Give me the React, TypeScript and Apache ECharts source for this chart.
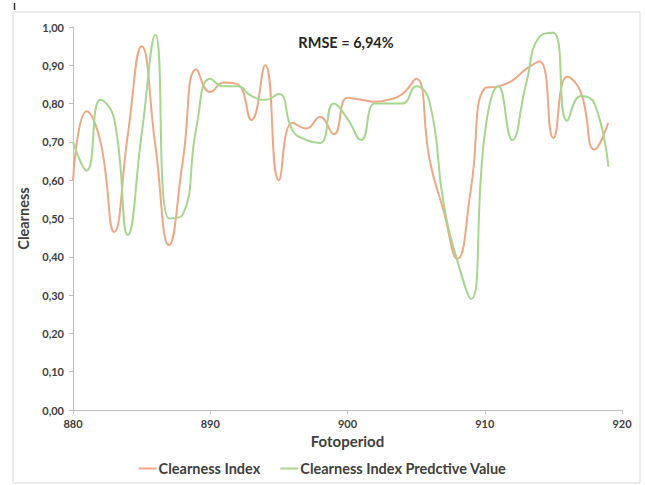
import React, { useEffect, useRef } from "react";
import * as echarts from "echarts";

const periods = [
  880, 881, 882, 883, 884, 885, 886, 887, 888, 889,
  890, 891, 892, 893, 894, 895, 896, 897, 898, 899,
  900, 901, 902, 903, 904, 905, 906, 907, 908, 909,
  910, 911, 912, 913, 914, 915, 916, 917, 918, 919,
];

const clearnessIndex = [
  0.60, 0.78, 0.70, 0.465, 0.72, 0.95, 0.69, 0.43, 0.65, 0.89,
  0.83, 0.855, 0.85, 0.757, 0.90, 0.60, 0.75, 0.735, 0.765, 0.72,
  0.815, 0.81, 0.805, 0.81, 0.825, 0.865, 0.65, 0.52, 0.395, 0.58,
  0.84, 0.845, 0.86, 0.89, 0.91, 0.71, 0.87, 0.83, 0.68, 0.75,
];

const predictedValue = [
  0.70, 0.625, 0.81, 0.76, 0.457, 0.72, 0.98, 0.50, 0.51, 0.74,
  0.865, 0.845, 0.845, 0.82, 0.81, 0.825, 0.73, 0.705, 0.697, 0.80,
  0.76, 0.705, 0.80, 0.80, 0.80, 0.845, 0.80, 0.54, 0.39, 0.29,
  0.72, 0.845, 0.705, 0.85, 0.975, 0.985, 0.755, 0.82, 0.80, 0.635,
];

const seriesNames = ["Clearness Index", "Clearness Index Predctive Value"];
const annotation = "RMSE = 6,94%";

const FONT = "Lato, 'Liberation Sans', sans-serif";

export default function App() {
  const ref = useRef<HTMLDivElement>(null);
  useEffect(() => {
    if (!ref.current) return;
    const chart = echarts.init(ref.current, undefined, { renderer: "svg" });
    const toPairs = (vals: number[]) => periods.map((p, i) => [p, vals[i]]);
    chart.setOption({
      animation: false,
      backgroundColor: "#ffffff",
      textStyle: { fontFamily: FONT },
      grid: { left: 73, right: 23, top: 27, bottom: 75 },
      legend: {
        bottom: 4,
        left: "center",
        icon: "rect",
        itemWidth: 18,
        itemHeight: 2,
        itemGap: 20,
        textStyle: { fontFamily: FONT, fontSize: 14.5, fontWeight: "bold", color: "#404040", padding: [0, 0, 0, -3] },
        data: seriesNames,
      },
      xAxis: {
        type: "value",
        min: 880,
        max: 920,
        interval: 10,
        name: "Fotoperiod",
        nameLocation: "middle",
        nameGap: 23,
        nameTextStyle: { fontFamily: FONT, fontSize: 15, fontWeight: "bold", color: "#404040" },
        axisLine: { show: true, lineStyle: { color: "#BFBFBF", width: 1 } },
        axisTick: { show: true, length: 4, lineStyle: { color: "#BFBFBF" } },
        axisLabel: { fontFamily: FONT, fontSize: 11, fontWeight: "bold", color: "#404040", margin: 8 },
        splitLine: { show: false },
      },
      yAxis: {
        type: "value",
        min: 0,
        max: 1,
        interval: 0.1,
        name: "Clearness",
        nameLocation: "middle",
        nameGap: 36,
        nameTextStyle: { fontFamily: FONT, fontSize: 14.5, fontWeight: "bold", color: "#404040" },
        axisLine: { show: true, lineStyle: { color: "#BFBFBF", width: 1 } },
        axisTick: { show: true, length: 4, lineStyle: { color: "#BFBFBF" } },
        axisLabel: {
          fontFamily: FONT,
          fontSize: 11,
          fontWeight: "bold",
          color: "#404040",
          margin: 9,
          formatter: (v: number) => v.toFixed(2).replace(".", ","),
        },
        splitLine: { show: false },
      },
      graphic: [
        {
          type: "rect",
          shape: { x: 13, y: 12, width: 627, height: 471 },
          style: { fill: "none", stroke: "#D9D9D9", lineWidth: 1 },
          silent: true,
        },
        {
          type: "line",
          shape: { x1: 14.5, y1: 3, x2: 14.5, y2: 10 },
          style: { stroke: "#333333", lineWidth: 1.5 },
          silent: true,
        },
        {
          type: "text",
          x: 346,
          y: 42,
          style: {
            text: annotation,
            fontFamily: FONT,
            fontSize: 14.5,
            fontWeight: "bold",
            fill: "#262626",
            align: "center",
            verticalAlign: "middle",
          },
        },
      ],
      series: [
        {
          name: seriesNames[0],
          type: "line",
          data: toPairs(clearnessIndex),
          smooth: 0.5,
          showSymbol: false,
          symbol: "none",
          lineStyle: { color: "#EFA886", width: 2 },
          itemStyle: { color: "#EFA886" },
        },
        {
          name: seriesNames[1],
          type: "line",
          data: toPairs(predictedValue),
          smooth: 0.5,
          showSymbol: false,
          symbol: "none",
          lineStyle: { color: "#A6D68F", width: 2 },
          itemStyle: { color: "#A6D68F" },
        },
      ],
    });
    return () => chart.dispose();
  }, []);
  return (
    <div
      ref={ref}
      style={{ position: "fixed", left: 0, top: 0, width: 645, height: 485 }}
    />
  );
}
